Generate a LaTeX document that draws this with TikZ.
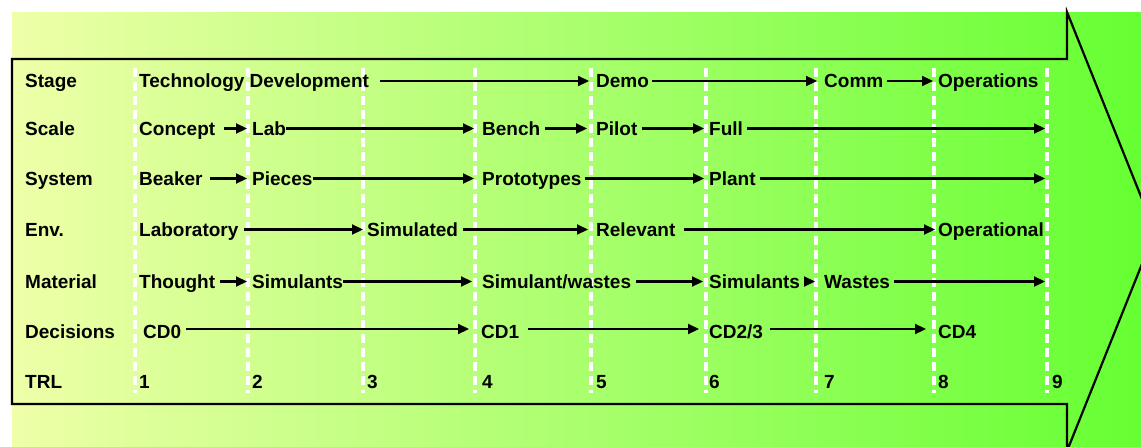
\documentclass[tikz,border=0pt]{standalone}
\usepackage{fontspec}
\setmainfont{Liberation Sans}
\usetikzlibrary{arrows.meta}
\definecolor{bgL}{HTML}{EEFFA8}
\definecolor{bgR}{HTML}{66FF33}
\newcommand\myarrow[4]{\draw[arr, shorten <=#2pt, shorten >=#4pt] (#1.east) -- (#3.west);}
\newcommand\myarrowend[3]{\draw[arr, shorten <=#2pt] (#1.east) -- (#3);}
\begin{document}
\begin{tikzpicture}[x=1pt,y=-1pt,
  lbl/.style={font=\fontsize{19}{21}\selectfont\bfseries, inner sep=0pt, anchor=base west, text height=13pt, text depth=0pt},
  lbld/.style={lbl, text height=18pt},
  arr/.style={line width=2.2pt, -{Triangle[length=11pt,width=10pt]}},
  gridline/.style={white, line width=3.2pt, dash pattern=on 9pt off 5pt}]
\useasboundingbox (0,0) rectangle (1141,447);
\begin{scope}
  \clip (0,0) rectangle (1141,447);
  \shade[left color=bgL, right color=bgR] (12,12) rectangle (1141,460);
  \draw[line width=2.2pt, line join=miter] (12,59) -- (1067,59) -- (1067,12) -- (1155,231.5) -- (1067,451) -- (1067,404) -- (12,404) -- cycle;
\end{scope}
\foreach \x in {135,248,363,475,591,706,816,934,1047}
  \draw[gridline] (\x,68) -- (\x,393);

% Row: Stage
\node[lbl] (hStage) at (25,87.5) {Stage};
\node[lbl] (s1) at (139,87.5) {Technology Development};
\node[lbl] (s2) at (596,87.5) {Demo};
\node[lbl] (s3) at (824,87.5) {Comm};
\node[lbl] (s4) at (938,87.5) {Operations};
\myarrow{s1}{11}{s2}{7}
\myarrow{s2}{3}{s3}{7}
\myarrow{s3}{3}{s4}{5}

% Row: Scale
\node[lbl] (hScale) at (25,135) {Scale};
\node[lbl] (c1) at (139,135) {Concept};
\node[lbl] (c2) at (252,135) {Lab};
\node[lbl] (c3) at (482,135) {Bench};
\node[lbl] (c4) at (596,135) {Pilot};
\node[lbl] (c5) at (709,135) {Full};
\coordinate (cEnd) at (1045,128.5);
\myarrow{c1}{9}{c2}{5}
\myarrow{c2}{0}{c3}{8}
\myarrow{c3}{5}{c4}{9}
\myarrow{c4}{4}{c5}{5}
\myarrowend{c5}{4}{cEnd}

% Row: System
\node[lbl] (hSystem) at (25,185) {System};
\node[lbl] (y1) at (139,185) {Beaker};
\node[lbl] (y2) at (252,185) {Pieces};
\node[lbl] (y3) at (482,185) {Prototypes};
\node[lbl] (y4) at (709,185) {Plant};
\coordinate (yEnd) at (1045,178.5);
\myarrow{y1}{7}{y2}{5}
\myarrow{y2}{0}{y3}{8}
\myarrow{y3}{3}{y4}{5}
\myarrowend{y4}{4}{yEnd}

% Row: Env.
\node[lbl] (hEnv) at (25,236) {Env.};
\node[lbl] (e1) at (139,236) {Laboratory};
\node[lbl] (e2) at (367,236) {Simulated};
\node[lbl] (e3) at (596,236) {Relevant};
\node[lbl] (e4) at (938,236) {Operational};
\myarrow{e1}{5}{e2}{4}
\myarrow{e2}{5}{e3}{8}
\myarrow{e3}{8}{e4}{3}

% Row: Material
\node[lbl] (hMaterial) at (25,288) {Material};
\node[lbl] (m1) at (139,288) {Thought};
\node[lbl] (m2) at (252,288) {Simulants};
\node[lbl] (m3) at (482,288) {Simulant/wastes};
\node[lbl] (m4) at (709,288) {Simulants};
\node[lbl] (m5) at (824,288) {Wastes};
\coordinate (mEnd) at (1045,281.5);
\myarrow{m1}{5}{m2}{5}
\myarrow{m2}{0}{m3}{10}
\myarrow{m3}{5}{m4}{6}
\myarrow{m4}{4}{m5}{9}
\myarrowend{m5}{4}{mEnd}

% Row: Decisions
\node[lbl] (hDecisions) at (25,338) {Decisions};
\node[lbld] (d1) at (143,338) {CD0};
\node[lbld] (d2) at (481,338) {CD1};
\node[lbld] (d3) at (709,338) {CD2/3};
\node[lbld] (d4) at (938,338) {CD4};
\myarrow{d1}{5}{d2}{12}
\myarrow{d2}{9}{d3}{10}
\myarrow{d3}{7}{d4}{12}

% Row: TRL
\node[lbl] (hTRL) at (25,388) {TRL};
\node[lbl] (t1) at (139,388) {1};
\node[lbl] (t2) at (252,388) {2};
\node[lbl] (t3) at (367,388) {3};
\node[lbl] (t4) at (482,388) {4};
\node[lbl] (t5) at (596,388) {5};
\node[lbl] (t6) at (709,388) {6};
\node[lbl] (t7) at (824,388) {7};
\node[lbl] (t8) at (938,388) {8};
\node[lbl] (t9) at (1052,388) {9};
\end{tikzpicture}
\end{document}
